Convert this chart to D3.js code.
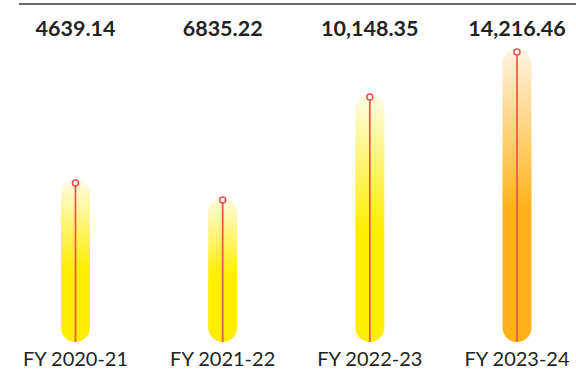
<!DOCTYPE html>
<html>
<head>
<meta charset="utf-8">
<script src="https://cdn.jsdelivr.net/npm/d3@7"></script>
<style>
  html, body { margin: 0; padding: 0; background: #fff; }
  svg { display: block; font-family: Lato, "Open Sans", sans-serif; }
</style>
</head>
<body>
<svg id="chart" width="576" height="369"></svg>
<script>
// Fiscal years shown along the bottom
const years = ["FY 2020-21", "FY 2021-22", "FY 2022-23", "FY 2023-24"];
// Headline totals printed in the row above the bars
const totals = [4639.14, 6835.22, 10148.35, 14216.46];
const totalText = ["4639.14", "6835.22", "10,148.35", "14,216.46"];
// Height of each capsule (relative level, 0–300)
const levels = [159, 142, 245, 290];
// Capsule fill: pale top fading into the full colour at the base
const topColors = ["#fffbe6", "#fffbe6", "#fffbe6", "#fff4e0"];
const baseColors = ["#ffee00", "#ffee00", "#ffee00", "#ffb21a"];

const svg = d3.select("#chart");
const W = 576, H = 369;

const x = d3.scalePoint().domain(years).range([75.5, 517]);
const y = d3.scaleLinear().domain([0, 300]).range([342, 42]);

const barW = 29;

// rule across the top
svg.append("line")
  .attr("x1", 19).attr("x2", W).attr("y1", 4).attr("y2", 4)
  .attr("stroke", "#333").attr("stroke-width", 1.4);

// headline totals
svg.append("g").selectAll("text").data(years).join("text")
  .attr("x", d => x(d)).attr("y", 36)
  .attr("text-anchor", "middle")
  .attr("font-size", 21.5).attr("font-weight", 700).attr("fill", "#222")
  .text((d, i) => totalText[i]);

// gradients
const defs = svg.append("defs");
years.forEach((d, i) => {
  const g = defs.append("linearGradient")
    .attr("id", "grad" + i)
    .attr("x1", 0).attr("y1", 0).attr("x2", 0).attr("y2", 1);
  g.append("stop").attr("offset", "0%").attr("stop-color", topColors[i]);
  g.append("stop").attr("offset", "55%").attr("stop-color", baseColors[i]);
  g.append("stop").attr("offset", "100%").attr("stop-color", baseColors[i]);
});

const bars = svg.append("g").selectAll("g").data(years).join("g");

bars.append("rect")
  .attr("x", d => x(d) - barW / 2)
  .attr("y", (d, i) => y(levels[i]) - 3)
  .attr("width", barW)
  .attr("height", (d, i) => y(0) - y(levels[i]) + 3)
  .attr("rx", barW / 2).attr("ry", barW / 2)
  .attr("fill", (d, i) => `url(#grad${i})`);

bars.append("line")
  .attr("x1", d => x(d)).attr("x2", d => x(d))
  .attr("y1", (d, i) => y(levels[i]))
  .attr("y2", y(0))
  .attr("stroke", "#ee5a46").attr("stroke-width", 1.8);

bars.append("circle")
  .attr("cx", d => x(d))
  .attr("cy", (d, i) => y(levels[i]))
  .attr("r", 3)
  .attr("fill", "#fff")
  .attr("stroke", "#ee4a4a").attr("stroke-width", 1.5);

// category labels
svg.append("g").selectAll("text").data(years).join("text")
  .attr("x", d => x(d)).attr("y", 366)
  .attr("text-anchor", "middle")
  .attr("font-size", 20).attr("fill", "#222")
  .text(d => d);
</script>
</body>
</html>
